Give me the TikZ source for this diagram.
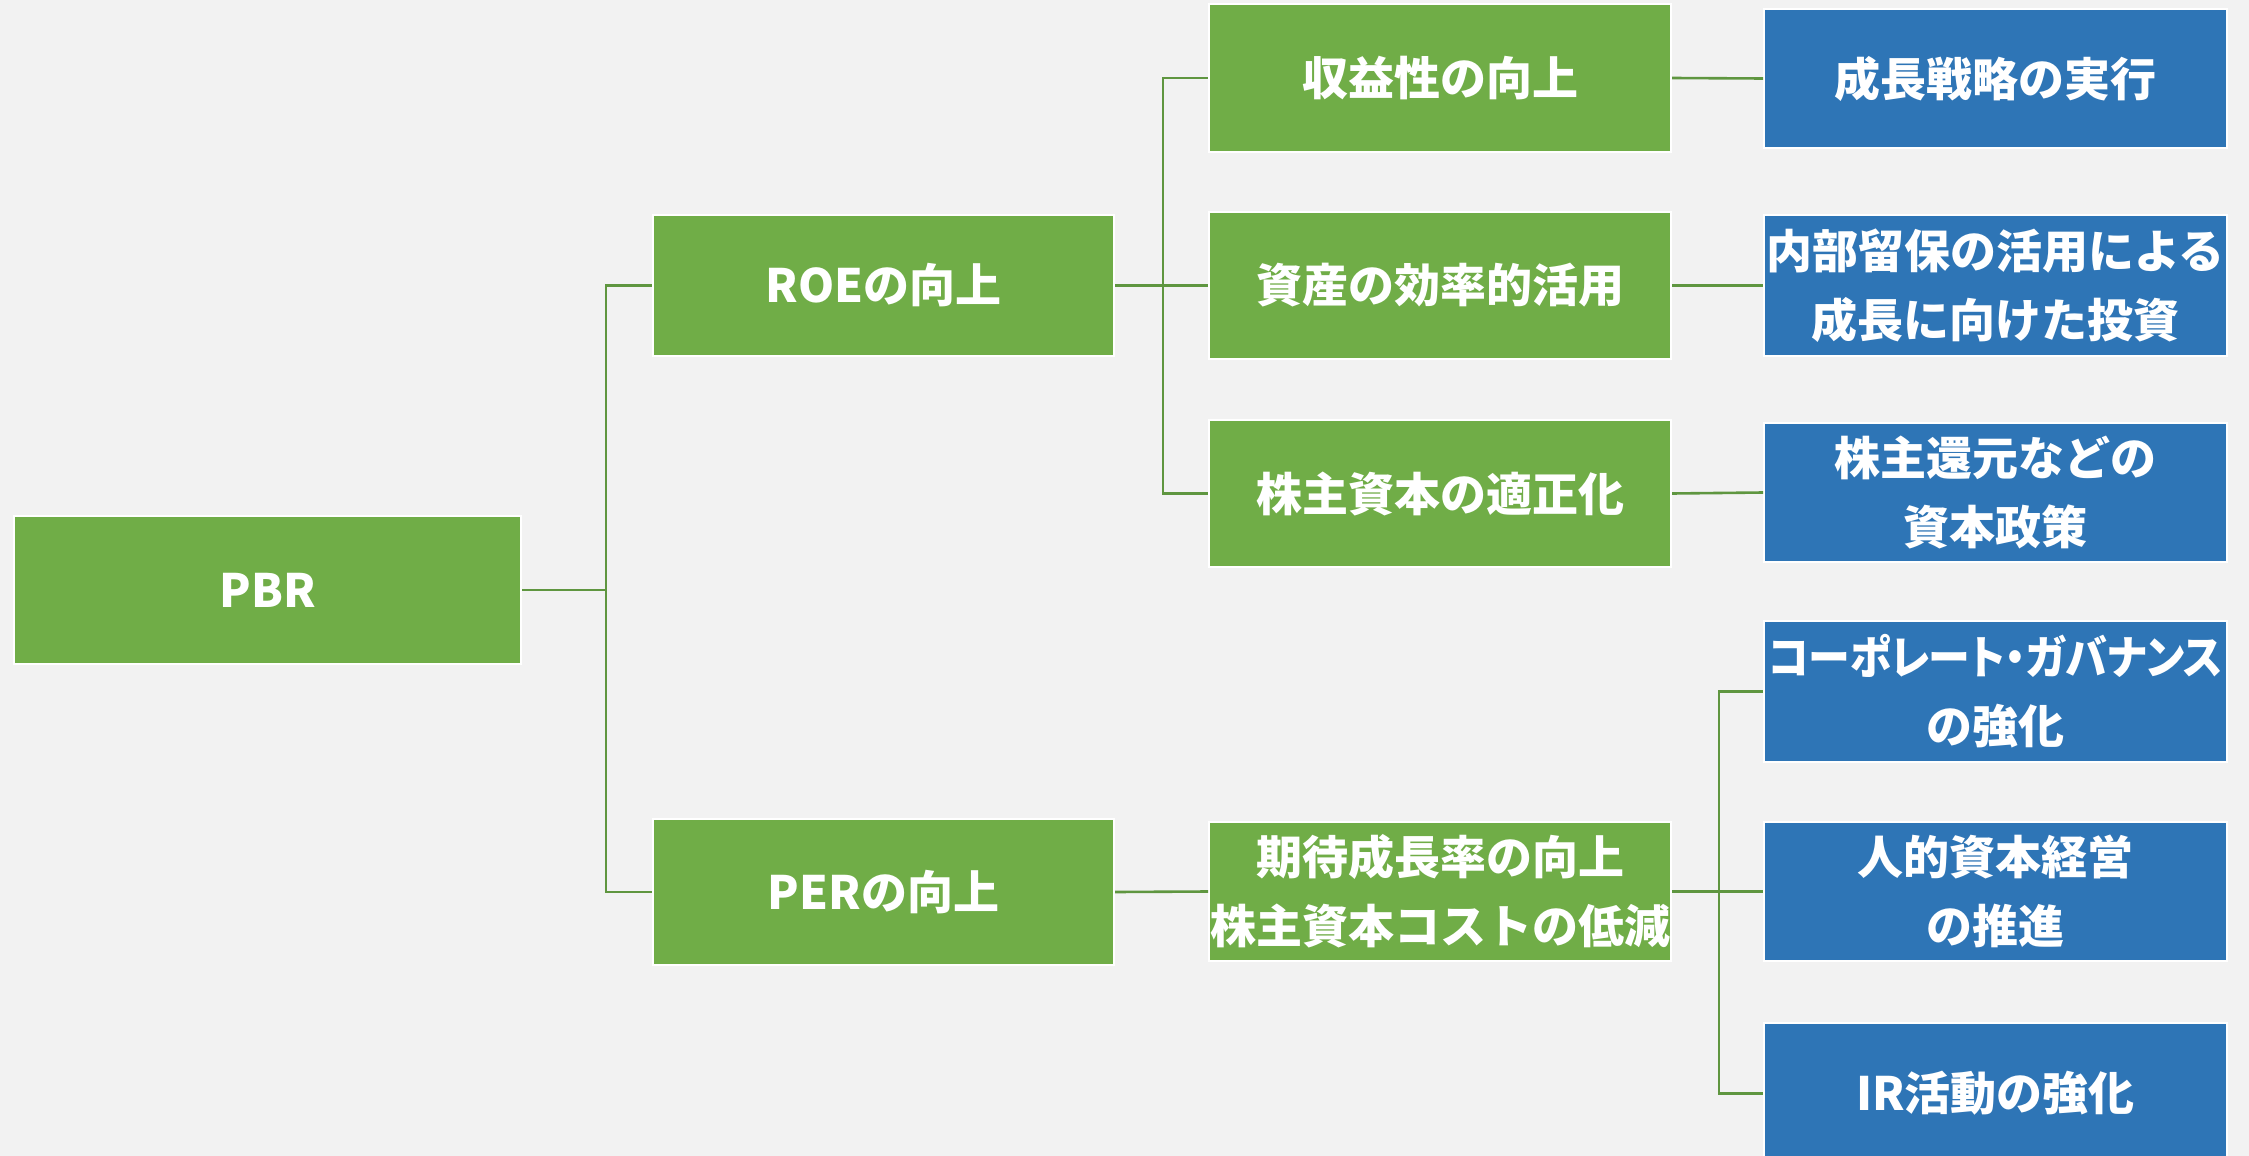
\documentclass[tikz,border=0pt]{standalone}
\usepackage{fontspec}
\setmainfont{Noto Sans CJK JP}
\newfontfamily\jpp{Noto Sans CJK JP}[RawFeature=+palt]
\definecolor{bgc}{HTML}{F2F2F2}
\definecolor{grn}{HTML}{70AD47}
\definecolor{blu}{HTML}{2E75B6}
\definecolor{lnc}{HTML}{5F9640}
\tikzset{
  box/.style={draw=white, line width=1pt, text=white, font=\bfseries\fontsize{23}{34.5}\selectfont, align=center, inner sep=0pt},
  gbox/.style={box, fill=grn},
  bbox/.style={box, fill=blu},
  conn/.style={draw=lnc, line width=1.3pt}
}
\begin{document}
\begin{tikzpicture}[x=0.5pt,y=-0.5pt]
\fill[bgc] (0,0) rectangle (2249,1156);
\useasboundingbox (0,0) rectangle (2249,1156);
\begin{scope}
\clip (0,0) rectangle (2249,1156);
% level 0
\node[gbox, minimum width=253.5pt, minimum height=74pt] (pbr) at (267.5,590) {PBR};
% level 1
\node[gbox, minimum width=230.5pt, minimum height=70.5pt] (roe) at (883.5,285.5) {ROEの向上};
\node[gbox, minimum width=230.5pt, minimum height=73pt] (per) at (883.5,892) {PERの向上};
% level 2
\node[gbox, minimum width=231pt, minimum height=74pt] (a1) at (1440,78) {収益性の向上};
\node[gbox, minimum width=231pt, minimum height=73.5pt] (a2) at (1440,285.5) {資産の効率的活用};
\node[gbox, minimum width=231pt, minimum height=73.5pt] (a3) at (1440,493.5) {株主資本の適正化};
\node[gbox, minimum width=231pt, minimum height=69.5pt] (c1) at (1440,891.5) {期待成長率の向上\\株主資本コストの低減};
% level 3
\node[bbox, minimum width=231.5pt, minimum height=69.5pt] (b1) at (1995.5,78.5) {成長戦略の実行};
\node[bbox, minimum width=231.5pt, minimum height=70.5pt] (b2) at (1995.5,285.5) {内部留保の活用による\\成長に向けた投資};
\node[bbox, minimum width=231.5pt, minimum height=69.5pt] (b3) at (1995.5,492.5) {株主還元などの\\資本政策};
\node[bbox, minimum width=231.5pt, minimum height=70.5pt, text width=231.5pt] (d1) at (1995.5,691.5) {\scalebox{0.91}[1]{\jpp\bfseries コーポレート・ガバナンス}\\の強化};
\node[bbox, minimum width=231.5pt, minimum height=69.5pt] (d2) at (1995.5,891.5) {人的資本経営\\の推進};
\node[bbox, minimum width=231.5pt, minimum height=70.5pt] (d3) at (1995.5,1093.5) {IR活動の強化};
\end{scope}
% connectors
\draw[conn] (pbr.east) -- ++(84,0) |- (roe.west);
\draw[conn] (pbr.east) -- ++(84,0) |- (per.west);
\draw[conn] (roe.east) -- ++(48,0) |- (a1.west);
\draw[conn] (roe.east) -- (a2.west);
\draw[conn] (roe.east) -- ++(48,0) |- (a3.west);
\draw[conn] (a1.east) -- (b1.west);
\draw[conn] (a2.east) -- (b2.west);
\draw[conn] (a3.east) -- (b3.west);
\draw[conn] (per.east) -- (c1.west);
\draw[conn] (c1.east) -- ++(47,0) |- (d1.west);
\draw[conn] (c1.east) -- (d2.west);
\draw[conn] (c1.east) -- ++(47,0) |- (d3.west);
\end{tikzpicture}
\end{document}
